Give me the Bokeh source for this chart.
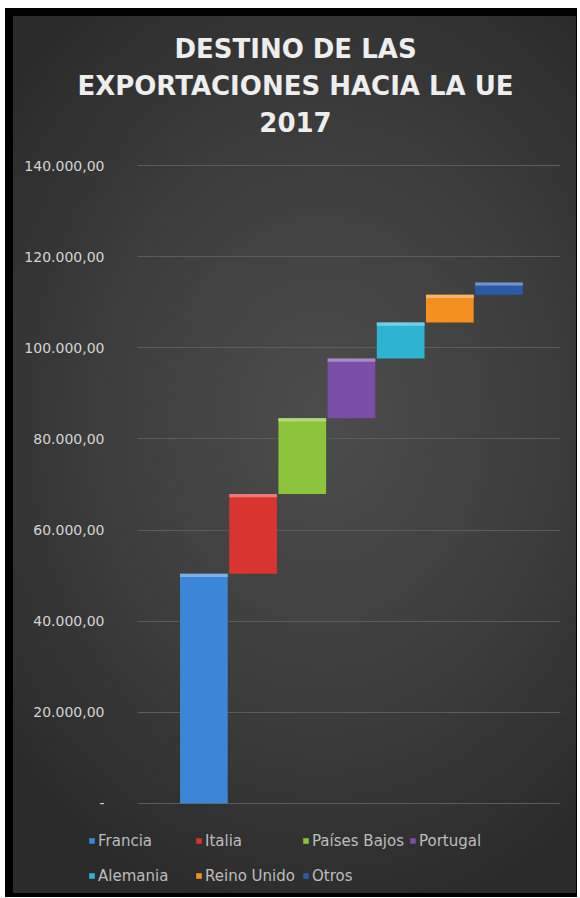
import numpy as np
from bokeh.plotting import figure
from bokeh.models import Range1d, FixedTicker, Legend, LegendItem, ColumnDataSource
from bokeh.layouts import column
from bokeh.embed import file_html
from bokeh.resources import INLINE

# ---- data ----
paises = ["Francia", "Italia", "Países Bajos", "Portugal", "Alemania", "Reino Unido", "Otros"]
exportaciones = [50400, 17500, 16650, 13100, 7900, 6100, 2700]
colores = ["#3b86d6", "#d9342f", "#8cc43c", "#7a4ea6", "#2eb3d3", "#f4901f", "#2c5aa8"]
titulo = ["DESTINO DE LAS", "EXPORTACIONES HACIA LA UE", "2017"]
ticks_y = [0, 20000, 40000, 60000, 80000, 100000, 120000, 140000]
ticks_txt = ["-", "20.000,00", "40.000,00", "60.000,00", "80.000,00",
             "100.000,00", "120.000,00", "140.000,00"]

tops = np.cumsum(exportaciones)
bottoms = tops - np.array(exportaciones)

def lighten(c, f):
    r, g, b = int(c[1:3], 16), int(c[3:5], 16), int(c[5:7], 16)
    r, g, b = [int(v + (255 - v) * f) for v in (r, g, b)]
    return "#%02x%02x%02x" % (r, g, b)

src = ColumnDataSource(dict(
    x=list(range(len(paises))),
    top=tops.tolist(),
    bottom=bottoms.tolist(),
    hl=(tops - 700).tolist(),
    color=colores,
    light=[lighten(c, 0.35) for c in colores],
    name=paises,
))

W = 563
FONT = "DejaVu Sans"
common = dict(output_backend="svg", toolbar_location=None, frame_align=False,
              background_fill_alpha=0, border_fill_alpha=0, outline_line_color=None)

# ---- title panel ----
TH = 139
tf = figure(width=W, height=TH, x_range=Range1d(0, W), y_range=Range1d(0, TH),
            x_axis_type=None, y_axis_type=None, min_border=0, **common)
tf.xgrid.visible = False
tf.ygrid.visible = False
tsrc = ColumnDataSource(dict(t=titulo, x=[282] * 3, y=[TH - 32, TH - 69, TH - 105]))
tf.text(x="x", y="y", text="t", source=tsrc, text_align="center",
        text_baseline="middle", text_font={"value": FONT}, text_font_style="bold",
        text_font_size="26px", text_color="#eeeeee")

# ---- main chart ----
MH = 658
p = figure(width=W, height=MH, x_range=Range1d(-1.35, 7.25), y_range=Range1d(-220, 140220),
           x_axis_type=None,
           min_border_left=124, min_border_right=16, min_border_top=9,
           min_border_bottom=9, **common)
p.outline_line_color = None

r = p.vbar(x="x", top="top", bottom="bottom", width=0.97, source=src,
           fill_color="color", line_color=None)
p.vbar(x="x", top="top", bottom="hl", width=0.97, source=src,
       fill_color="light", line_color=None)

p.xgrid.visible = False
p.ygrid.ticker = FixedTicker(ticks=ticks_y)
p.ygrid.grid_line_color = "#5c5c5c"
p.ygrid.grid_line_width = 1

ax = p.yaxis[0]
ax.ticker = FixedTicker(ticks=ticks_y)
ax.major_label_overrides = {t: s for t, s in zip(ticks_y, ticks_txt)}
ax.axis_line_color = None
ax.major_tick_line_color = None
ax.minor_tick_line_color = None
ax.major_label_standoff = 27
ax.major_label_text_font = FONT
ax.major_label_text_font_size = "14px"
ax.major_label_text_color = "#d4d4d4"

# ---- legend panel ----
LH = 80
lf = figure(width=W, height=LH, x_range=Range1d(0, 1), y_range=Range1d(1e7, 2e7),
            x_axis_type=None, y_axis_type=None, min_border=0, **common)
lf.xgrid.visible = False
lf.ygrid.visible = False
lr = lf.vbar(x="x", top="top", bottom="bottom", width=0.97, source=src,
             fill_color="color", line_color=None)
items = [LegendItem(label=n, renderers=[lr], index=i) for i, n in enumerate(paises)]
leg = Legend(items=items, orientation="horizontal", ncols=4,
             location=(75, 2), glyph_width=7, glyph_height=7,
             label_standoff=3, label_width=93, label_height=31, spacing=4,
             padding=0, margin=0, border_line_color=None,
             background_fill_alpha=0, label_text_font=FONT,
             label_text_font_size="15px", label_text_color="#bdbdbd")
lf.add_layout(leg, "center")

layout = column(tf, p, lf, spacing=0,
                styles={"margin": "8px 0px 0px 5px",
                        "padding": "8px 1px 4px 8px",
                        "background": "radial-gradient(ellipse 72% 58% at 55% 46%, "
                                      "#4c4c4c 0%, #3d3d3d 55%, #2b2b2b 100%) content-box, #000000"})

open("out.html", "w").write(file_html(layout, INLINE))
